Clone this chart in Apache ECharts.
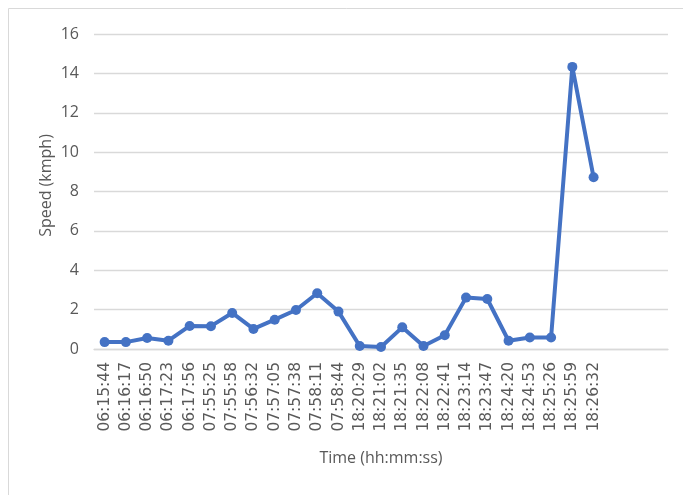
<!DOCTYPE html>
<html>
<head>
<meta charset="utf-8">
<script src="https://cdn.jsdelivr.net/npm/echarts@6/dist/echarts.min.js"></script>
<style>
  html, body { margin: 0; padding: 0; background: #fff; }
  #chart { width: 683px; height: 495px; }
</style>
</head>
<body>
<div id="chart"></div>
<script>
// Sample times (three trailing empty slots keep the axis wide)
const times = [
  '06:15:44', '06:16:17', '06:16:50', '06:17:23', '06:17:56',
  '07:55:25', '07:55:58', '07:56:32', '07:57:05', '07:57:38',
  '07:58:11', '07:58:44', '18:20:29', '18:21:02', '18:21:35',
  '18:22:08', '18:22:41', '18:23:14', '18:23:47', '18:24:20',
  '18:24:53', '18:25:26', '18:25:59', '18:26:32', '', '', ''
];
// Speed in km/h at each sample
const speeds = [
  0.35, 0.35, 0.56, 0.42, 1.17, 1.16, 1.83, 1.02, 1.49, 1.98,
  2.83, 1.90, 0.15, 0.10, 1.10, 0.15, 0.70, 2.61, 2.54, 0.42,
  0.58, 0.58, 14.33, 8.72
];
const yTicks = { min: 0, max: 16, interval: 2 };

const chart = echarts.init(document.getElementById('chart'), null, { renderer: 'canvas' });
const textColor = '#595959';
const fontFamily = '"Open Sans", "Liberation Sans", sans-serif';

chart.setOption({
  animation: false,
  graphic: [{
    type: 'rect',
    shape: { x: 8.5, y: 8.5, width: 700, height: 520 },
    style: { fill: 'none', stroke: '#d9d9d9', lineWidth: 1 }
  }],
  grid: { left: 94, right: 15, top: 34, bottom: 146 },
  xAxis: {
    type: 'category',
    data: times,
    boundaryGap: true,
    axisLine: { show: true, lineStyle: { color: '#d9d9d9', width: 1.3 } },
    axisTick: { show: false },
    axisLabel: {
      rotate: 90, interval: 0, color: textColor, fontFamily: '"DejaVu Sans", sans-serif',
      fontSize: 15.5, margin: 13
    },
    name: 'Time (hh:mm:ss)',
    nameLocation: 'middle',
    nameGap: 101,
    nameMoveOverlap: false,
    nameTextStyle: { color: textColor, fontFamily: fontFamily, fontSize: 16 }
  },
  yAxis: {
    type: 'value',
    min: yTicks.min, max: yTicks.max, interval: yTicks.interval,
    axisLine: { show: false },
    axisTick: { show: false },
    splitLine: { lineStyle: { color: '#d9d9d9', width: 1.3 } },
    axisLabel: { color: textColor, fontFamily: fontFamily, fontSize: 16, margin: 15 },
    name: 'Speed (kmph)',
    nameLocation: 'middle',
    nameRotate: 90,
    nameGap: 40,
    nameMoveOverlap: false,
    nameTextStyle: { color: textColor, fontFamily: fontFamily, fontSize: 16, padding: [0, 0, 0, 12] }
  },
  series: [{
    type: 'line',
    data: speeds,
    symbol: 'circle',
    symbolSize: 10,
    lineStyle: { color: '#4472C4', width: 4 },
    itemStyle: { color: '#4472C4' }
  }]
});
</script>
</body>
</html>
